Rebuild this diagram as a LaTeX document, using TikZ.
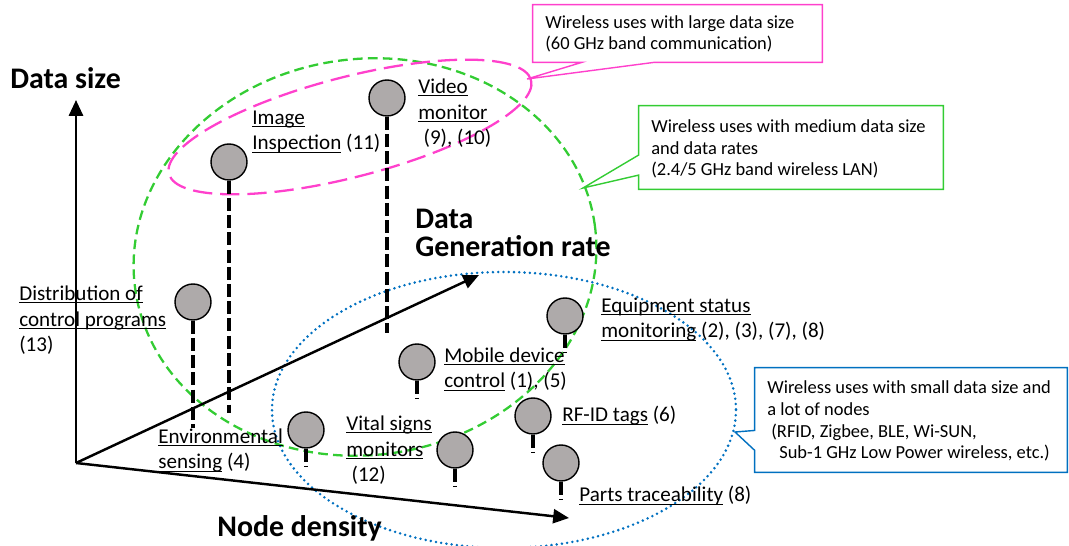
\documentclass[tikz,border=0pt]{standalone}
\usepackage{fontspec}
\setmainfont{Carlito}
\usetikzlibrary{arrows.meta,calc}

\definecolor{pinkc}{RGB}{255,64,204}
\definecolor{greenc}{RGB}{51,204,51}
\definecolor{bluec}{RGB}{0,112,192}
\definecolor{devgray}{RGB}{174,170,170}

\newcommand\ulin[1]{\underline{\smash{#1}}}

\tikzset{
  dev/.style={circle,draw,fill=devgray,line width=0.8pt,minimum size=0.72cm,inner sep=0pt},
  stub/.style={line width=2pt,dash pattern=on 7.4pt off 2.4pt},
  axis/.style={line width=1.4pt,-{Triangle[length=9pt,width=8pt]}},
  lbl/.style={anchor=base west,inner sep=0pt,align=left,font=\fontsize{12}{14.7}\selectfont},
  axlbl/.style={anchor=base west,inner sep=0pt,align=left,font=\fontsize{17}{16.4}\selectfont\bfseries},
  boxtxt/.style={anchor=base west,inner sep=0pt,align=left,font=\fontsize{10.5}{12.5}\selectfont},
  box/.style={draw=none,inner sep=0pt}
}

\begin{document}
\begin{tikzpicture}[x=0.02cm,y=-0.02cm]
\useasboundingbox (0,0) rectangle (1069,546);

% regions
\draw[greenc,line width=1.3pt,dash pattern=on 5.5pt off 3pt,rotate around={8:(365,257)}] (365,257) ellipse [x radius=232,y radius=198];
\draw[bluec,line width=1.6pt,line cap=round,dash pattern=on 0pt off 3pt] (504,410) ellipse [x radius=232,y radius=138];
\draw[pinkc,line width=1.3pt,dash pattern=on 11pt off 4.5pt,rotate around={14.5:(350,127)}] (350,127) ellipse [x radius=187,y radius=50];

% axes
\coordinate (O) at (76,463);
\coordinate (ytip) at (76,100);
\coordinate (rtip) at (479,275);
\coordinate (ntip) at (569,518);
\draw[axis] (O) -- (ytip);
\draw[axis] (O) -- (rtip);
\draw[axis] (O) -- (ntip);
\node[axlbl] (ysz) at (10,89) {Data size};
\node[axlbl] (rate) at (415,257) {Data\\Generation rate};
\node[axlbl] (dens) at (217,537) {Node density};

% uses
\node[dev] (img) at (229,162) {};
\node[dev] (vid) at (387,98) {};
\node[dev] (dist) at (193,302) {};
\node[dev] (mob) at (417,362) {};
\node[dev] (env) at (306,430) {};
\node[dev] (vit) at (455,450) {};
\node[dev] (eqp) at (565,316) {};
\node[dev] (rfid) at (533,416) {};
\node[dev] (parts) at (561,463) {};

\coordinate (imge) at (229,413);
\coordinate (vide) at (387,333);
\coordinate (diste) at (193,428);
\coordinate (mobe) at (417,398);
\coordinate (enve) at (306,466);
\coordinate (vite) at (455,486);
\coordinate (eqpe) at (565,353);
\coordinate (rfide) at (533,452);
\coordinate (partse) at (561,500);
\draw[stub] (img.south) -- (imge);
\draw[stub] (vid.south) -- (vide);
\draw[stub] (dist.south) -- (diste);
\draw[stub] (mob.south) -- (mobe);
\draw[stub] (env.south) -- (enve);
\draw[stub] (vit.south) -- (vite);
\draw[stub] (eqp.south) -- (eqpe);
\draw[stub] (rfid.south) -- (rfide);
\draw[stub] (parts.south) -- (partse);

% labels (anchored at the last line)
\node[lbl] (imgl) at (252,150) {\ulin{Image}\\\ulin{Inspection} (11)};
\node[lbl] (vidl) at (418,145) {\ulin{Video}\\\ulin{monitor}\\\hspace*{3pt}(9), (10)};
\node[lbl] (distl) at (19,352) {\ulin{Distribution of}\\\ulin{control programs}\\(13)};
\node[lbl] (mobl) at (444,388) {\ulin{Mobile device}\\\ulin{control} (1), (5)};
\node[lbl] (envl) at (158,469) {\ulin{Environmental}\\\ulin{sensing} (4)};
\node[lbl] (vitl) at (346,482) {\ulin{Vital signs}\\\ulin{monitors}\\\hspace*{3pt}(12)};
\node[lbl] (eqpl) at (601,338) {\ulin{Equipment status}\\\ulin{monitoring} (2), (3), (7), (8)};
\node[lbl] (rfidl) at (562,422) {\ulin{RF-ID tags} (6)};
\node[lbl] (partsl) at (579,502) {\ulin{Parts traceability} (8)};

% callouts
\node[box,minimum width=5.78cm,minimum height=1.14cm] (bigbox) at (677.5,33.5) {};
\coordinate (bigtip) at (527,79);
\draw[pinkc,line width=0.8pt,fill=white] (bigbox.north west) -- (bigbox.north east) -- (bigbox.south east)
  -- ($(bigbox.south west)!0.42!(bigbox.south east)$) -- (bigtip)
  -- ($(bigbox.south west)!0.17!(bigbox.south east)$) -- (bigbox.south west) -- cycle;
\node[boxtxt] (bigtxt) at (545,50) {Wireless uses with large data size\\(60 GHz band communication)};

\node[box,minimum width=6.08cm,minimum height=1.66cm] (midbox) at (791,147.5) {};
\coordinate (midtip) at (583,188);
\draw[greenc,line width=0.8pt,fill=white] (midbox.north west) -- (midbox.north east) -- (midbox.south east)
  -- (midbox.south west) -- ($(midbox.north west)!0.83!(midbox.south west)$) -- (midtip)
  -- ($(midbox.north west)!0.59!(midbox.south west)$) -- cycle;
\node[boxtxt] (midtxt) at (651,176) {Wireless uses with medium data size\\and data rates\\(2.4/5 GHz band wireless LAN)};

\node[box,minimum width=6.24cm,minimum height=2.08cm] (smlbox) at (911,420) {};
\coordinate (smltip) at (735,432);
\draw[bluec,line width=0.8pt,fill=white] (smlbox.north west) -- (smlbox.north east) -- (smlbox.south east)
  -- (smlbox.south west) -- ($(smlbox.north west)!0.79!(smlbox.south west)$) -- (smltip)
  -- ($(smlbox.north west)!0.6!(smlbox.south west)$) -- cycle;
\node[boxtxt] (smltxt) at (767,459) {Wireless uses with small data size and\\a lot of nodes\\\hspace*{2.3pt}(RFID, Zigbee, BLE, Wi-SUN,\\\hspace*{6.8pt}Sub-1 GHz Low Power wireless, etc.)};
\end{tikzpicture}
\end{document}
